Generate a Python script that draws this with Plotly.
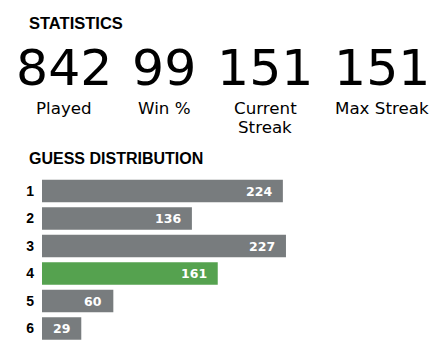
import plotly.graph_objects as go

# Data
stat_values = ["842", "99", "151", "151"]
stat_labels = ["Played", "Win %", "Current<br>Streak", "Max Streak"]
guesses = ["1", "2", "3", "4", "5", "6"]
counts = [224, 136, 227, 161, 60, 29]
highlight = "4"

W, H = 440, 352
ML = 42
GRAY = "#787c7e"
GREEN = "#55a24f"
PAD = 9  # minimum bar stub (in data units) before the value

colors = [GREEN if g == highlight else GRAY for g in guesses]
pos = list(range(len(guesses)))

fig = go.Figure()
fig.add_trace(go.Bar(
    x=[c + PAD for c in counts], y=pos, orientation="h", base=-PAD,
    customdata=counts,
    marker=dict(color=colors, line=dict(width=0)),
    hovertemplate="%{customdata}<extra></extra>",
))

# value labels inside bars (right-aligned)
for p, c in zip(pos, counts):
    fig.add_annotation(x=c, y=p, xref="x", yref="y", text=f"<b>{c}</b>",
                       showarrow=False, xanchor="right", xshift=-9,
                       font=dict(family="DejaVu Sans", size=12.5, color="white"))

def px(x):
    return (x - ML) / (W - ML)

def py(y):
    return 1 - y / H

# Titles
fig.add_annotation(x=px(27), y=py(23), xref="paper", yref="paper", text="<b>STATISTICS</b>",
                   showarrow=False, xanchor="left", yanchor="middle",
                   font=dict(family="Liberation Sans", size=16.5, color="#000"))
fig.add_annotation(x=px(27), y=py(158), xref="paper", yref="paper", text="<b>GUESS DISTRIBUTION</b>",
                   showarrow=False, xanchor="left", yanchor="middle",
                   font=dict(family="Liberation Sans", size=16, color="#000"))

centers = [64, 164, 265, 382]
LINE = 19.5
for cx, v, lab in zip(centers, stat_values, stat_labels):
    fig.add_annotation(x=px(cx), y=py(68), xref="paper", yref="paper", text=v,
                       showarrow=False, xanchor="center", yanchor="middle",
                       font=dict(family="DejaVu Sans", size=50.5, color="#000"))
    for i, part in enumerate(lab.split("<br>")):
        fig.add_annotation(x=px(cx), y=py(96.5 + i * LINE), xref="paper", yref="paper", text=part,
                           showarrow=False, xanchor="center", yanchor="top", align="center",
                           borderpad=0,
                           font=dict(family="DejaVu Sans", size=16.7, color="#000"))

fig.update_layout(
    width=W, height=H,
    margin=dict(l=ML, r=0, t=0, b=0),
    paper_bgcolor="white", plot_bgcolor="white",
    showlegend=False,
    bargap=0.18,
    xaxis=dict(range=[-PAD, 376], visible=False, fixedrange=True),
    yaxis=dict(domain=[9.75 / H, 174.75 / H], range=[5.5, -0.5], showgrid=False,
               tickmode="array", tickvals=pos, ticktext=guesses,
               zeroline=False, showline=False, ticks="", ticklabelstandoff=7,
               tickfont=dict(family="Liberation Sans", size=14, color="#000", weight="bold")),
)

fig.write_html("out.html")
